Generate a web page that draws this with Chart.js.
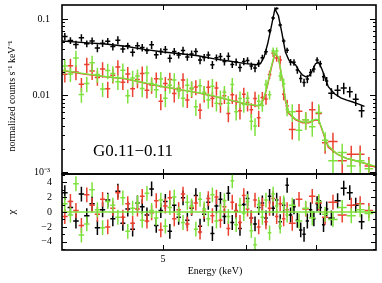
<!DOCTYPE html>
<html>
<head>
<meta charset="utf-8">
<script src="https://cdn.jsdelivr.net/npm/chart.js@4.4.1/dist/chart.umd.min.js"></script>
<style>
  html, body { margin: 0; padding: 0; background: #fff; }
  #wrap { position: relative; width: 382px; height: 283px; }
  #wrap canvas { position: absolute; left: 0; top: 0; }
</style>
</head>
<body>
<div id="wrap">
  <canvas id="specChart" width="382" height="283"></canvas>
  <canvas id="resChart" width="382" height="283"></canvas>
</div>
<script>
// ------- Datos -------
const energyMin = 4, energyMax = 8;
const energyTicks = [5, 6, 7];
const energyTickLabels = { 5: '5' };

const countTicks = [0.001, 0.01, 0.1];
const countTickLabels = ['10⁻³', '0.01', '0.1'];
const residTicks = [-4, -2, 0, 2, 4];

// XIS1 (negro): bordes de canal en keV
const blackEdges = [4.00,4.05,4.10,4.15,4.20,4.25,4.30,4.35,4.40,4.45,4.50,4.55,4.60,4.65,4.70,4.75,4.80,4.85,4.90,4.95,
  5.00,5.05,5.10,5.15,5.20,5.25,5.30,5.35,5.40,5.45,5.50,5.55,5.60,5.65,5.70,5.75,5.80,5.85,5.90,5.95,6.00,6.05,6.10,6.15,6.20,
  6.25,6.30,6.35,6.40,6.45,6.50,6.55,6.60,6.65,6.70,6.75,6.80,6.85,6.90,6.95,7.00,7.05,7.10,7.15,7.20,
  7.30,7.40,7.50,7.60,7.70,7.80];
const blackCounts = [0.0590,0.0523,0.0464,0.0566,0.0473,0.0515,0.0418,0.0482,0.0512,0.0435,
  0.0528,0.0405,0.0445,0.0366,0.0445,0.0422,0.0386,0.0459,0.0339,0.0376,
  0.0398,0.0306,0.0376,0.0337,0.0387,0.0319,0.0347,0.0376,0.0290,0.0314,
  0.0337,0.0252,0.0311,0.0322,0.0277,0.0324,0.0254,0.0274,0.0232,0.0278,
  0.0286,0.0243,0.0228,0.0264,
  0.0311,0.0371,0.0698,0.1030,0.1370,0.0830,0.0516,0.0389,0.0273,0.0271,
  0.0215,0.0167,0.0148,0.0164,0.0199,0.0222,0.0290,0.0259,0.0175,0.0154,
  0.0107,0.0117,0.0125,0.0112,0.0089,0.0063];
const blackErrPct = [11,10,12,11,10,11,12,11,10,11, 12,11,10,12,11,11,10,12,11,10, 11,12,11,10,12,11,11,10,12,11,
  11,12,10,11,11,12,10,11,12,11, 10,11,12,11,
  9,8,6,5,4,5,7,8,10,10, 11,12,12,12,11,10,9,10,12,13,
  16,17,17,16,18,18];
const blackResid = [2.6,0.6,-1.2,2.4,-0.5,1.1,-2.1,0.3,1.6,-0.9, 2.8,-1.5,0.4,-2.3,1.2,0.7,-0.4,3.1,-1.8,0.2,
  1.4,-2.6,0.9,-0.7,1.9,-1.1,0.5,2.2,-1.9,-0.3, 1.3,-2.9,0.8,1.7,-0.6,2.5,-1.4,0.1,-2.2,1.0, 1.8,-0.8,-1.6,0.6,
  1.2,-0.8,2.1,0.5,1.6,-1.3,0.9,3.6,-0.4,0.7, -1.1,-2.4,-3.0,-1.2,0.3,-0.9,1.1,0.6,-1.7,0.4,
  -0.8,1.5,3.2,2.6,0.9,-1.3];
const blackModelE = [4.0,4.2,4.4,4.6,4.8,5.0,5.2,5.4,5.6,5.8,6.0,6.15,6.2,6.25,6.3,6.35,6.4,6.45,6.5,6.55,
  6.6,6.65,6.7,6.75,6.8,6.85,6.9,6.95,7.0,7.05,7.1,7.15,7.2,7.3,7.4,7.5,7.6,7.7,7.8];
const blackModel = [0.0515,0.0490,0.0470,0.0440,0.0400,0.0370,0.0350,0.0330,0.0300,0.0280,0.0260,0.0252,0.0260,0.0320,0.0480,0.0800,0.1350,0.1100,0.0650,0.0370,
  0.0290,0.0270,0.0250,0.0210,0.0185,0.0175,0.0180,0.0210,0.0260,0.0270,0.0220,0.0170,0.0130,0.0105,0.0093,0.0087,0.0082,0.0077,0.0072];

// XIS0 (rojo) y XIS3 (verde): mismos canales
const fiEdges = [4.00,4.05,4.10,4.15,4.20,4.25,4.30,4.35,4.40,4.45,4.50,4.55,4.60,4.65,4.70,4.75,4.80,4.85,4.90,4.95,
  5.00,5.05,5.10,5.15,5.20,5.25,5.30,5.35,5.40,5.45,5.50,5.55,5.60,5.65,5.70,5.75,5.80,5.85,5.90,5.95,6.00,6.05,6.10,6.15,6.20,
  6.25,6.30,6.35,6.40,6.45,6.50,6.55,6.60,
  6.70,6.80,6.90,7.00,7.10,7.20,
  7.35,7.50,7.65,7.80,7.95];
const redCounts = [0.0189,0.0244,0.0203,0.0140,0.0253,0.0209,0.0172,0.0221,0.0122,0.0184,
  0.0235,0.0149,0.0190,0.0122,0.0161,0.0193,0.0117,0.0137,0.0165,0.0084,
  0.0143,0.0161,0.0106,0.0124,0.0159,0.0087,0.0122,0.0129,0.0064,0.0106,
  0.0128,0.0091,0.0125,0.0078,0.0099,0.0058,0.0102,0.0084,0.0063,0.0104,
  0.0081,0.0065,0.0091,0.0051,
  0.0094,0.0090,0.0188,0.0356,0.0309,0.0291,0.0104,0.0073,
  0.0036,0.0062,0.0048,0.0065,0.0058,0.0024,
  0.0025,0.0014,0.0017,0.0017,0.0012];
const redErrPct = [22,24,22,21,23,24,22,23,24,22, 23,21,24,22,23,24,22,23,21,24, 22,23,24,22,23,21,24,22,23,24,
  22,23,21,24,22,23,24,22,23,21, 24,22,23,24,
  18,16,13,11,11,13,17,20,
  26,25,26,27,26,28,
  30,31,29,30,31];
const redResid = [-0.6,1.4,0.2,-1.8,2.3,0.9,-0.3,1.7,-2.0,0.5, 2.6,-0.7,1.1,-1.5,0.4,2.1,-1.2,-0.1,1.5,-2.4,
  0.8,1.9,-0.9,0.3,2.4,-1.6,0.6,1.2,-2.7,0.1, 1.8,-0.5,2.0,-1.1,0.7,-2.2,1.3,0.2,-1.4,2.2, 0.4,-0.8,1.6,-2.0,
  0.9,-1.3,0.5,1.8,-0.6,1.1,-0.9,0.3,
  -1.5,1.7,0.4,2.1,1.2,-0.7,
  1.3,-0.4,0.9,1.1,0.2];
const greenCounts = [0.0242,0.0190,0.0309,0.0103,0.0143,0.0267,0.0188,0.0121,0.0211,0.0194,
  0.0151,0.0213,0.0099,0.0169,0.0179,0.0123,0.0197,0.0143,0.0119,0.0164,
  0.0092,0.0136,0.0159,0.0114,0.0092,0.0136,0.0125,0.0071,0.0134,0.0110,
  0.0087,0.0132,0.0079,0.0094,0.0110,0.0079,0.0139,0.0061,0.0091,0.0076,
  0.0092,0.0046,0.0040,0.0084,
  0.0074,0.0139,0.0102,0.0381,0.0381,0.0179,0.0142,0.0066,
  0.0061,0.0035,0.0048,0.0039,0.0060,0.0026,
  0.0014,0.0018,0.0012,0.0014,0.0011];
const greenErrPct = [22,21,24,22,23,24,22,21,23,24, 22,23,21,24,22,23,24,21,22,23, 24,22,23,21,24,22,23,24,22,21,
  23,24,22,23,21,24,22,23,24,22, 21,24,26,22,
  17,15,13,11,11,14,17,19,
  26,27,26,26,28,27,
  31,30,30,31,29];
const greenResid = [1.1,-0.4,3.8,-3.1,-1.6,3.0,0.3,-2.1,1.4,0.9, -0.7,1.9,-2.6,0.5,1.2,-1.1,2.5,0.2,-0.8,1.6,
  -1.9,0.6,2.0,-0.3,-1.4,1.3,0.8,-2.3,1.7,0.4, -0.9,2.3,-1.2,0.1,1.5,-0.6,4.2,-1.7,0.9,-0.2, 1.4,-2.5,-4.4,1.0,
  -0.7,1.6,-2.8,2.4,0.8,-1.9,1.2,-0.4,
  0.9,-1.2,0.5,-0.8,1.4,-0.3,
  -1.0,0.6,-0.5,0.3,-0.2];
const fiModelE = [4.0,4.2,4.4,4.6,4.8,5.0,5.2,5.4,5.6,5.8,6.0,6.15,6.2,6.25,6.3,6.35,6.4,6.45,6.5,6.55,
  6.6,6.7,6.8,6.9,7.0,7.05,7.1,7.15,7.2,7.35,7.5,7.65,7.8,8.0];
const redModel = [0.0211,0.0190,0.0175,0.0165,0.0145,0.0130,0.0118,0.0108,0.0097,0.0086,0.0077,0.0073,0.0075,0.0092,0.0140,0.0230,0.0350,0.0310,0.0170,0.0085,
  0.0058,0.0048,0.0044,0.0044,0.0048,0.0047,0.0036,0.0027,0.0021,0.0017,0.0015,0.0014,0.0013,0.00115];
const greenModel = [0.0214,0.0193,0.0177,0.0166,0.0147,0.0131,0.0119,0.0109,0.0098,0.0087,0.0078,0.0074,0.0076,0.0095,0.0145,0.0240,0.0360,0.0315,0.0175,0.0088,
  0.0060,0.0049,0.0045,0.0045,0.0049,0.0048,0.0037,0.0028,0.0022,0.0017,0.0015,0.0014,0.0013,0.00118];

// ------- Estilo -------
const RED = '#ea4130', GREEN = '#7ee23e', BLACK = '#000';
const SERIF = "'Liberation Serif', 'Times New Roman', serif";

// ------- Helpers -------
function binPoints(edges, vals) {
  return vals.map((v, i) => ({ x: (edges[i] + edges[i + 1]) / 2, y: v }));
}
function binHalf(edges, vals) {
  return vals.map((v, i) => (edges[i + 1] - edges[i]) / 2);
}
function modelPoints(es, vals) {
  return es.map((e, i) => ({ x: e, y: vals[i] }));
}
function dataSet(edges, counts, pct, color, order) {
  return {
    data: binPoints(edges, counts), xErr: binHalf(edges, counts),
    yErr: counts.map((v, i) => v * pct[i] / 100),
    borderColor: color, pointRadius: 0, showLine: false, order
  };
}
function residSet(edges, res, color, order) {
  return {
    data: binPoints(edges, res), xErr: binHalf(edges, res), yErr: res.map(() => 1),
    borderColor: color, pointRadius: 0, showLine: false, order
  };
}
function lineSet(points, color, order) {
  return { data: points, borderColor: color, borderWidth: 1.4, pointRadius: 0, showLine: true, order };
}
// sin relleno extra de Chart.js alrededor de los ejes
function fixAxis(size, prop) {
  return s => {
    s[prop] = size;
    s.paddingTop = 0; s.paddingBottom = 0; s.paddingLeft = 0; s.paddingRight = 0;
  };
}

// cruces de error, dibujadas justo después de cada dataset
const errorBars = {
  id: 'errorBars',
  afterDatasetDraw(chart, args) {
    const ds = chart.data.datasets[args.index];
    if (!ds.xErr) return;
    const xs = chart.scales.x, ys = chart.scales.y, a = chart.chartArea, ctx = chart.ctx;
    ctx.save();
    ctx.beginPath(); ctx.rect(a.left, a.top, a.right - a.left, a.bottom - a.top); ctx.clip();
    ctx.strokeStyle = ds.borderColor; ctx.lineWidth = 1.5;
    ctx.beginPath();
    ds.data.forEach((p, i) => {
      const px = xs.getPixelForValue(p.x), py = ys.getPixelForValue(p.y);
      ctx.moveTo(xs.getPixelForValue(p.x - ds.xErr[i]), py);
      ctx.lineTo(xs.getPixelForValue(p.x + ds.xErr[i]), py);
      ctx.moveTo(px, ys.getPixelForValue(p.y - ds.yErr[i]));
      ctx.lineTo(px, ys.getPixelForValue(p.y + ds.yErr[i]));
    });
    ctx.stroke();
    ctx.restore();
  }
};

// marco + ticks hacia dentro en los 4 lados
const frame = {
  id: 'frame',
  afterDraw(chart, args, opts) {
    const { ctx, chartArea: a, scales } = chart;
    ctx.save();
    ctx.strokeStyle = '#000';
    ctx.lineWidth = 1;
    ctx.beginPath();
    opts.xTicks.forEach(v => {
      const x = Math.round(scales.x.getPixelForValue(v)) + 0.5;
      ctx.moveTo(x, a.top); ctx.lineTo(x, a.top + 5);
      ctx.moveTo(x, a.bottom); ctx.lineTo(x, a.bottom - 5);
    });
    opts.yTicks.forEach(t => {
      const y = Math.round(scales.y.getPixelForValue(t.v)) + 0.5;
      ctx.moveTo(a.left, y); ctx.lineTo(a.left + t.len, y);
      ctx.moveTo(a.right, y); ctx.lineTo(a.right - t.len, y);
    });
    ctx.stroke();
    ctx.lineWidth = 1.6;
    ctx.strokeRect(a.left, a.top, a.right - a.left, a.bottom - a.top);
    ctx.restore();
  }
};

// textos libres (títulos de ejes y etiqueta de la fuente)
const labels = {
  id: 'labels',
  afterDraw(chart, args, opts) {
    const ctx = chart.ctx;
    ctx.save();
    ctx.fillStyle = '#000';
    (opts.items || []).forEach(t => {
      ctx.save();
      ctx.font = t.font;
      ctx.textAlign = t.align || 'center';
      ctx.textBaseline = t.baseline || 'middle';
      ctx.translate(t.x, t.y);
      if (t.rotate) ctx.rotate(t.rotate);
      ctx.fillText(t.text, 0, 0);
      ctx.restore();
    });
    ctx.restore();
  }
};

function logMinorTicks() {
  const out = [];
  countTicks.forEach(d => {
    out.push({ v: d, len: 6 });
    for (let m = 2; m <= 9; m++) out.push({ v: d * m, len: 3 });
  });
  return out.filter(t => t.v < 0.152);
}

const tickFont = { family: SERIF, size: 10 };

// ------- Panel superior: espectro -------
new Chart(document.getElementById('specChart'), {
  type: 'scatter',
  data: {
    datasets: [
      dataSet(blackEdges, blackCounts, blackErrPct, BLACK, 6),
      lineSet(modelPoints(blackModelE, blackModel), BLACK, 5),
      dataSet(fiEdges, redCounts, redErrPct, RED, 4),
      lineSet(modelPoints(fiModelE, redModel), RED, 3),
      dataSet(fiEdges, greenCounts, greenErrPct, GREEN, 2),
      lineSet(modelPoints(fiModelE, greenModel), GREEN, 1)
    ]
  },
  options: {
    responsive: false, animation: false, devicePixelRatio: 1,
    layout: { padding: { left: 0, top: 5, right: 6, bottom: 109 } },
    plugins: {
      legend: { display: false }, tooltip: { enabled: false },
      frame: { xTicks: energyTicks, yTicks: logMinorTicks() },
      labels: { items: [
        { text: 'normalized counts s⁻¹ keV⁻¹', x: 12, y: 96, rotate: -Math.PI / 2, font: `10px ${SERIF}` },
        { text: 'G0.11−0.11', x: 93, y: 156, align: 'left', baseline: 'alphabetic', font: `17px ${SERIF}` }
      ] }
    },
    scales: {
      x: { type: 'logarithmic', min: energyMin, max: energyMax, display: false },
      y: {
        type: 'logarithmic', min: 0.00094, max: 0.152,
        grid: { display: false, drawTicks: false }, border: { display: false },
        afterBuildTicks: s => { s.ticks = countTicks.map(v => ({ value: v })); },
        afterFit: fixAxis(62, 'width'),
        ticks: { padding: 12, color: '#000', font: tickFont, autoSkip: false,
          callback: (v, i) => countTickLabels[i] }
      }
    }
  },
  plugins: [errorBars, frame, labels]
});

// ------- Panel inferior: residuos (chi) -------
new Chart(document.getElementById('resChart'), {
  type: 'scatter',
  data: {
    datasets: [
      residSet(blackEdges, blackResid, BLACK, 4),
      residSet(fiEdges, redResid, RED, 3),
      residSet(fiEdges, greenResid, GREEN, 2),
      lineSet([{ x: energyMin, y: 0 }, { x: energyMax, y: 0 }], GREEN, 1)
    ]
  },
  options: {
    responsive: false, animation: false, devicePixelRatio: 1,
    layout: { padding: { left: 0, top: 174, right: 6, bottom: 0 } },
    plugins: {
      legend: { display: false }, tooltip: { enabled: false },
      frame: {
        xTicks: energyTicks,
        yTicks: [-5, -4, -3, -2, -1, 0, 1, 2, 3, 4, 5].map(v => ({ v, len: residTicks.includes(v) ? 5 : 3 }))
      },
      labels: { items: [
        { text: 'χ', x: 12, y: 212, rotate: -Math.PI / 2, font: `11px ${SERIF}` },
        { text: 'Energy (keV)', x: 215, y: 271, font: `10px ${SERIF}` }
      ] }
    },
    scales: {
      x: {
        type: 'logarithmic', min: energyMin, max: energyMax,
        grid: { display: false, drawTicks: false }, border: { display: false },
        afterBuildTicks: s => { s.ticks = Object.keys(energyTickLabels).map(v => ({ value: Number(v) })); },
        afterFit: fixAxis(33, 'height'),
        ticks: { padding: 3, color: '#000', font: tickFont, autoSkip: false, maxRotation: 0,
          callback: v => energyTickLabels[v] }
      },
      y: {
        type: 'linear', min: -5.1, max: 5.1,
        grid: { display: false, drawTicks: false }, border: { display: false },
        afterBuildTicks: s => { s.ticks = residTicks.map(v => ({ value: v })); },
        afterFit: fixAxis(62, 'width'),
        ticks: { padding: 10, color: '#000', font: tickFont, autoSkip: false,
          callback: v => (v < 0 ? '−' + Math.abs(v) : String(v)) }
      }
    }
  },
  plugins: [errorBars, frame, labels]
});
</script>
</body>
</html>
